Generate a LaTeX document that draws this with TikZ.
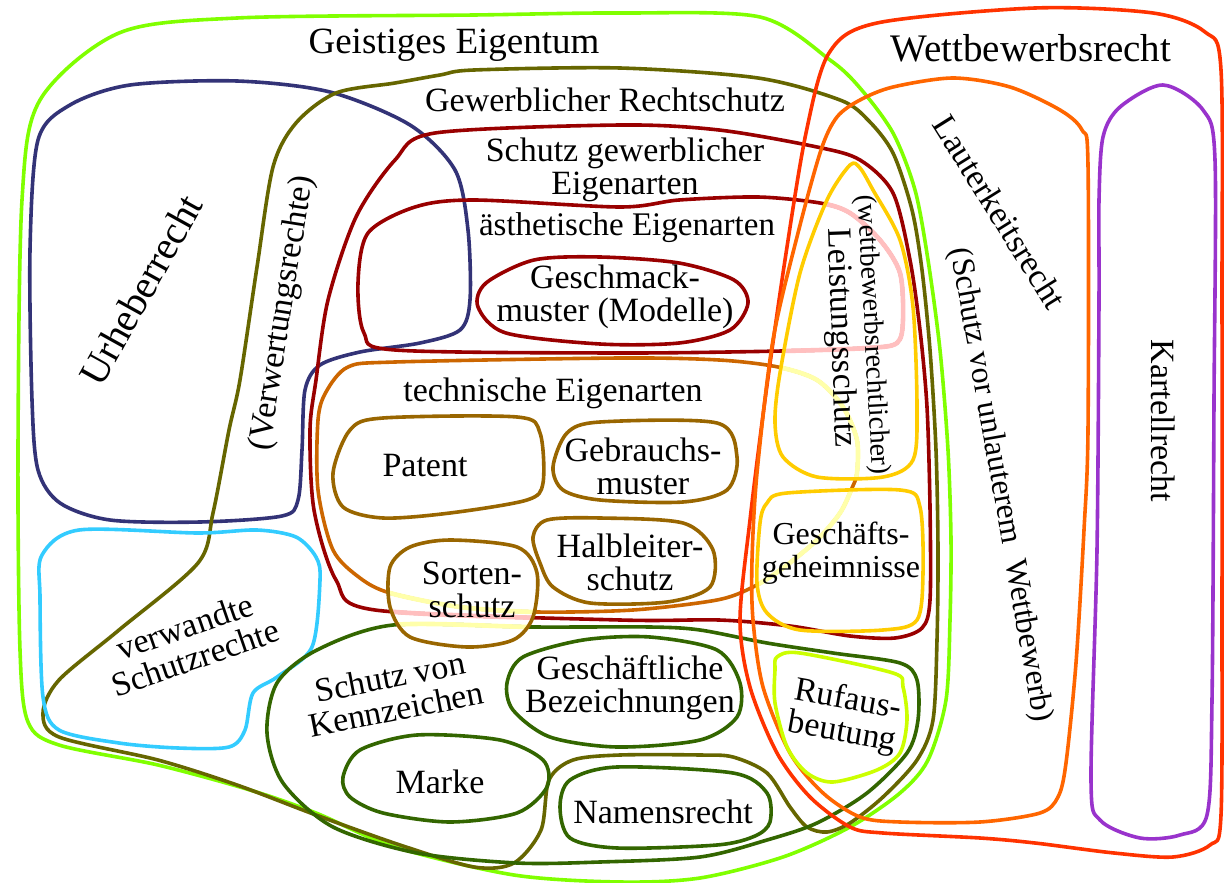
\documentclass[tikz,border=0pt]{standalone}
\usepackage{fontspec}
\setmainfont{Liberation Serif}
\definecolor{cLime}{HTML}{80FF00}
\definecolor{cNavy}{HTML}{333377}
\definecolor{cOlive}{HTML}{666600}
\definecolor{cDred}{HTML}{990000}
\definecolor{cTech}{HTML}{CC6600}
\definecolor{cBrown}{HTML}{996600}
\definecolor{cRed}{HTML}{FF3300}
\definecolor{cOrange}{HTML}{FF6600}
\definecolor{cPurple}{HTML}{9933CC}
\definecolor{cGold}{HTML}{FFCC00}
\definecolor{cRuf}{HTML}{CCFF00}
\definecolor{cBlue}{HTML}{33CCFF}
\definecolor{cDgreen}{HTML}{336600}
\definecolor{cPink}{HTML}{FFBFBF}
\definecolor{cPaleY}{HTML}{FFFFAA}
\newcommand\shpGeist{plot[smooth cycle] coordinates {(620,13) (760,17) (830,60) (860,88) (893,133) (915,190) (928,260) (940,350) (948,450) (951,540) (950,620) (946,700) (928,760) (900,793) (850,827) (783,857) (700,878) (620,882) (514,875) (395,847) (316,813) (250,790) (158,765) (59,745) (28,722) (20,650) (18,450) (22,200) (40,100) (119,33) (237,18) (474,15)}}
\newcommand\shpUrh{plot[smooth cycle] coordinates {(38,140) (70,105) (130,85) (237,81) (330,92) (410,125) (455,170) (468,230) (470,300) (460,330) (420,343) (360,352) (320,365) (305,390) (302,450) (298,500) (282,516) (200,522) (110,520) (60,503) (38,470) (32,400) (30,250)}}
\newcommand\shpGew{plot[smooth cycle] coordinates {(474,70) (620,68) (758,78) (840,100) (868,120) (893,153) (912,210) (922,270) (930,350) (936,450) (938,550) (937,640) (933,720) (917,760) (883,797) (850,823) (827,832) (807,827) (790,807) (767,773) (733,757) (700,755) (620,755) (573,760) (549,780) (541,830) (514,863) (474,867) (400,845) (316,815) (237,785) (158,760) (59,737) (43,713) (59,680) (119,630) (198,563) (213,513) (229,430) (240,380) (257,267) (273,167) (296,123) (336,93) (395,83) (440,75)}}
\newcommand\shpSge{plot[smooth cycle] coordinates {(435,133) (620,125) (719,130) (817,147) (860,160) (893,193) (910,260) (920,330) (927,407) (930,507) (930,600) (922,628) (895,638) (850,636) (790,626) (719,620) (620,620) (375,610) (336,580) (314,510) (310,430) (316,380) (328,300) (356,217) (395,160)}}
\newcommand\shpAest{plot[smooth cycle] coordinates {(415,207) (474,200) (620,207) (679,200) (758,197) (820,203) (850,213) (880,240) (900,273) (903,320) (897,343) (867,348) (782,351) (620,353) (395,350) (364,333) (358,283) (368,233)}}
\newcommand\shpGesch{plot[smooth cycle] coordinates {(534,260) (600,257) (679,263) (734,280) (748,303) (730,330) (679,343) (600,344) (506,333) (478,307) (486,283)}}
\newcommand\shpTech{plot[smooth cycle] coordinates {(348,367) (395,362) (620,358) (719,360) (778,367) (817,380) (843,407) (857,440) (857,473) (852,488) (840,513) (817,540) (783,568) (753,587) (717,600) (633,610) (537,612) (460,607) (390,593) (360,578) (333,550) (318,490) (318,420) (326,392)}}
\newcommand\shpPat{plot[smooth cycle] coordinates {(350,430) (383,418) (517,417) (540,433) (543,483) (527,500) (450,513) (383,518) (343,507) (333,473)}}
\newcommand\shpGebr{plot[smooth cycle] coordinates {(567,433) (600,422) (717,423) (737,457) (727,490) (683,502) (600,500) (563,490) (553,467)}}
\newcommand\shpHalb{plot[smooth cycle] coordinates {(547,520) (600,518) (683,523) (713,550) (710,587) (667,602) (590,603) (553,587) (540,563) (533,537)}}
\newcommand\shpSort{plot[smooth cycle] coordinates {(410,547) (450,540) (517,547) (537,573) (533,617) (513,640) (467,647) (410,637) (390,607) (390,567)}}
\newcommand\shpKenn{plot[smooth cycle] coordinates {(393,625) (533,627) (650,627) (700,630) (767,643) (833,653) (900,663) (917,680) (918,720) (907,753) (867,793) (817,823) (767,840) (700,857) (600,862) (517,863) (417,853) (333,827) (283,783) (267,733) (277,683) (317,650)}}
\newcommand\shpGbez{plot[smooth cycle] coordinates {(523,657) (583,640) (650,637) (717,650) (740,683) (737,717) (700,740) (617,747) (550,737) (513,710) (507,683)}}
\newcommand\shpMarke{plot[smooth cycle] coordinates {(360,750) (417,735) (500,740) (543,760) (547,787) (517,813) (450,822) (383,813) (350,797) (343,777)}}
\newcommand\shpName{plot[smooth cycle] coordinates {(570,780) (617,767) (733,773) (767,793) (770,822) (755,836) (717,845) (617,848) (570,838) (560,807)}}
\newcommand\shpBlue{plot[smooth cycle] coordinates {(79,530) (198,533) (257,530) (296,537) (316,557) (320,580) (312,647) (277,677) (253,693) (245,730) (229,747) (178,748) (119,743) (59,730) (43,697) (40,597) (42,555)}}
\newcommand\shpWett{plot[smooth cycle] coordinates {(829,53) (877,23) (1035,8) (1153,13) (1205,32) (1221,70) (1222,300) (1222,600) (1221,815) (1210,845) (1173,857) (1114,853) (1035,843) (980,838) (883,833) (850,827) (810,797) (777,753) (750,687) (740,620) (750,520) (765,400) (785,260) (806,133)}}
\newcommand\shpLaut{plot[smooth cycle] coordinates {(837,117) (860,100) (893,87) (953,78) (1010,87) (1060,110) (1082,130) (1088,165) (1088,430) (1084,530) (1076,663) (1066,763) (1058,797) (1040,813) (980,822) (900,822) (860,817) (823,793) (790,753) (763,687) (753,620) (752,560) (757,473) (773,340) (798,233) (821,150)}}
\newcommand\shpKart{plot[smooth cycle] coordinates {(1163,85) (1120,107) (1103,137) (1099,200) (1099,300) (1097,550) (1091,780) (1100,820) (1140,838) (1180,835) (1207,815) (1212,700) (1214,400) (1215,160) (1203,110)}}
\newcommand\shpLeist{plot[smooth cycle] coordinates {(850,165) (827,200) (800,273) (780,373) (775,423) (783,457) (817,477) (883,477) (913,460) (917,407) (913,307) (900,240) (873,190) (860,168)}}
\newcommand\shpGgeh{plot[smooth cycle] coordinates {(787,493) (900,490) (920,507) (923,573) (917,620) (883,630) (800,630) (767,613) (757,583) (760,523) (767,503)}}
\newcommand\shpRuf{plot[smooth cycle] coordinates {(777,657) (800,653) (893,673) (903,687) (907,720) (900,753) (877,770) (833,782) (807,773) (787,747) (775,703) (775,670)}}
\tikzset{
  every node/.style={inner sep=0pt, align=center, text=black, font=\fontsize{34}{33}\selectfont},
  ln/.style={line width=3.6pt, line join=round},
  pale/.style={line width=4.6pt, line join=round},
}
\begin{document}
\begin{tikzpicture}[x=1pt, y=-1pt]
\useasboundingbox (0,0) rectangle (1224,883);
\fill[white] (0,0) rectangle (1224,883);
% outlines
\draw[ln, cLime] \shpGeist;
\draw[ln, cNavy] \shpUrh;
\draw[ln, cOlive] \shpGew;
\draw[ln, cBlue] \shpBlue;
\draw[ln, cDred] \shpSge;
\draw[ln, cDred] \shpAest;
\draw[ln, cDred] \shpGesch;
\draw[ln, cTech] \shpTech;
\draw[ln, cDgreen] \shpKenn;
\draw[ln, cDgreen] \shpGbez;
\draw[ln, cDgreen] \shpMarke;
\draw[ln, cDgreen] \shpName;
\draw[ln, cRed] \shpWett;
\draw[ln, cOrange] \shpLaut;
\draw[ln, cPurple] \shpKart;
% faded parts inside other sets
\begin{scope}
  \clip \shpLeist;
  \draw[pale, cPaleY] \shpTech;
  \draw[pale, cPink] \shpAest;
\end{scope}
\begin{scope}
  \clip \shpGgeh;
  \draw[pale, cPaleY] \shpTech;
\end{scope}
\begin{scope}
  \clip \shpSort;
  \draw[pale, cPaleY] \shpTech;
  \draw[pale, cPink] \shpSge;
  \draw[pale, cPaleY] \shpKenn;
\end{scope}
\draw[ln, cBrown] \shpPat;
\draw[ln, cBrown] \shpGebr;
\draw[ln, cBrown] \shpHalb;
\draw[ln, cBrown] \shpSort;
\draw[ln, cGold] \shpLeist;
\draw[ln, cGold] \shpGgeh;
\draw[ln, cRuf] \shpRuf;
% labels
\node[font=\fontsize{37}{37}\selectfont] (geist) at (454,45) {Geistiges Eigentum};
\node[font=\fontsize{39}{39}\selectfont] (wett) at (1031,48) {Wettbewerbsrecht};
\node (gew) at (605,100) {Gewerblicher Rechtschutz};
\node (sge) at (625,170) {Schutz gewerblicher\\Eigenarten};
\node[font=\fontsize{33}{33}\selectfont] (aest) at (627,228) {ästhetische Eigenarten};
\node (gesch) at (615,297) {Geschmack-\\muster (Modelle)};
\node (tech) at (553,393) {technische Eigenarten};
\node (pat) at (425,466) {Patent};
\node (gebr) at (643,466) {Gebrauchs-\\muster};
\node (halb) at (630,562) {Halbleiter-\\schutz};
\node (sort) at (472,590) {Sorten-\\schutz};
\node[rotate=11] (kenn) at (393,693) {Schutz von\\Kennzeichen};
\node (gbez) at (630,688) {Geschäftliche\\Bezeichnungen};
\node (marke) at (440,782) {Marke};
\node (name) at (663,812) {Namensrecht};
\node[rotate=-10] (ruf) at (845,717) {Rufaus-\\beutung};
\node[font=\fontsize{32}{33}\selectfont] (ggeh) at (841,553) {Geschäfts-\\geheimnisse};
\node[rotate=-88] (leist) at (840,338) {Leistungsschutz};
\node[rotate=-87, font=\fontsize{28}{28}\selectfont] (wbr) at (872,335) {(wettbewerbsrechtlicher)};
\node[rotate=-58] (laut) at (1000,212) {Lauterkeitsrecht};
\node[rotate=-80, font=\fontsize{32}{32}\selectfont] (uwg) at (1000,485) {(Schutz vor unlauterem\ \ Wettbewerb)};
\node[rotate=-90] (kart) at (1163,421) {Kartellrecht};
\node[rotate=61, font=\fontsize{40}{40}\selectfont] (urh) at (141,290) {Urheberrecht};
\node[rotate=81] (verw) at (283,313) {(Verwertungsrechte)};
\node[rotate=19] (vsr) at (190,642) {verwandte\\Schutzrechte};
\end{tikzpicture}
\end{document}
